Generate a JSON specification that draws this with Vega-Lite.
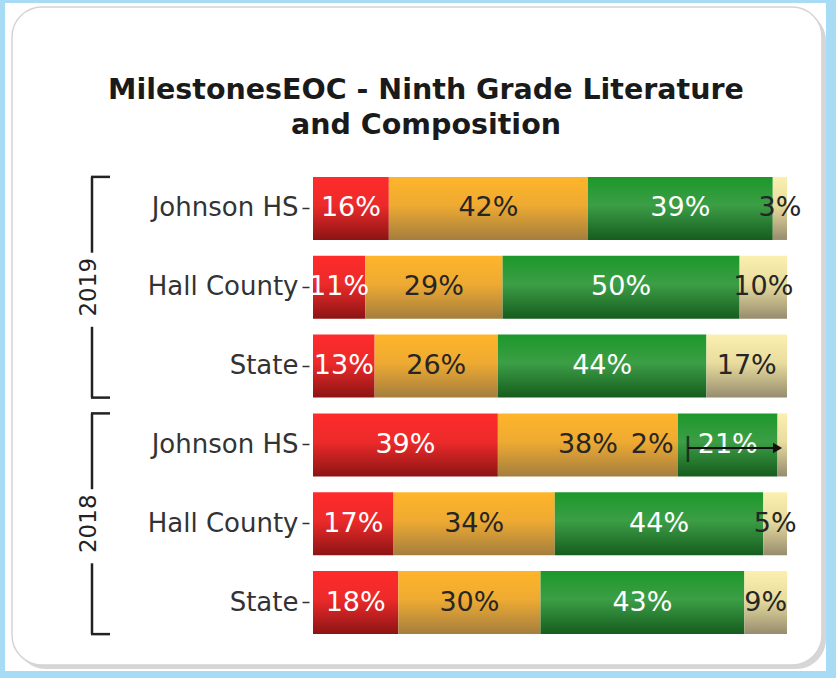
{
  "$schema": "https://vega.github.io/schema/vega-lite/v6.json",
  "width": 474,
  "height": 473,
  "padding": {"left": 5, "top": 2, "right": 10, "bottom": 8},
  "background": "#a8dcf5",
  "title": {
    "text": ["MilestonesEOC - Ninth Grade Literature", "and Composition"],
    "font": "DejaVu Sans",
    "fontSize": 28.5,
    "fontWeight": "bold",
    "color": "#1a1a1a",
    "lineHeight": 35,
    "anchor": "middle",
    "frame": "group",
    "dx": -124,
    "offset": -137
  },
  "config": {"view": {"stroke": null}, "font": "DejaVu Sans"},
  "layer": [
    {
      "data": {"values": [{}]},
      "mark": {"type": "rect", "fill": "white", "xOffset": -308, "x2Offset": 39, "yOffset": -174, "y2Offset": 37},
      "encoding": {
        "x": {"datum": 0, "type": "quantitative", "scale": {"domain": [0, 100], "nice": false}, "axis": null},
        "x2": {"datum": 100},
        "y": {"datum": "2019|Johnson HS", "type": "nominal", "bandPosition": 0, "title": null},
        "y2": {"datum": "2018|State", "bandPosition": 1}
      }
    },
    {
      "data": {"values": [{}]},
      "mark": {"type": "rect", "fill": "#b4b4b4", "opacity": 0.55, "cornerRadius": 30, "xOffset": -297, "x2Offset": 39, "yOffset": -166, "y2Offset": 35},
      "encoding": {
        "x": {"datum": 0, "type": "quantitative", "axis": null},
        "x2": {"datum": 100},
        "y": {"datum": "2019|Johnson HS", "type": "nominal", "bandPosition": 0, "title": null},
        "y2": {"datum": "2018|State", "bandPosition": 1}
      }
    },
    {
      "data": {"values": [{}]},
      "mark": {"type": "rect", "fill": "white", "stroke": "#d4d4d4", "strokeWidth": 1.5, "cornerRadius": 30, "xOffset": -301, "x2Offset": 35, "yOffset": -170, "y2Offset": 31},
      "encoding": {
        "x": {"datum": 0, "type": "quantitative", "axis": null},
        "x2": {"datum": 100},
        "y": {"datum": "2019|Johnson HS", "type": "nominal", "bandPosition": 0, "title": null},
        "y2": {"datum": "2018|State", "bandPosition": 1}
      }
    },
    {
      "data": {
        "values": [
          {"year": "2019", "school": "Johnson HS", "level": 1, "pct": 16},
          {"year": "2019", "school": "Johnson HS", "level": 2, "pct": 42},
          {"year": "2019", "school": "Johnson HS", "level": 3, "pct": 39},
          {"year": "2019", "school": "Johnson HS", "level": 4, "pct": 3},
          {"year": "2019", "school": "Hall County", "level": 1, "pct": 11},
          {"year": "2019", "school": "Hall County", "level": 2, "pct": 29},
          {"year": "2019", "school": "Hall County", "level": 3, "pct": 50},
          {"year": "2019", "school": "Hall County", "level": 4, "pct": 10},
          {"year": "2019", "school": "State", "level": 1, "pct": 13},
          {"year": "2019", "school": "State", "level": 2, "pct": 26},
          {"year": "2019", "school": "State", "level": 3, "pct": 44},
          {"year": "2019", "school": "State", "level": 4, "pct": 17},
          {"year": "2018", "school": "Johnson HS", "level": 1, "pct": 39},
          {"year": "2018", "school": "Johnson HS", "level": 2, "pct": 38},
          {"year": "2018", "school": "Johnson HS", "level": 3, "pct": 21},
          {"year": "2018", "school": "Johnson HS", "level": 4, "pct": 2},
          {"year": "2018", "school": "Hall County", "level": 1, "pct": 17},
          {"year": "2018", "school": "Hall County", "level": 2, "pct": 34},
          {"year": "2018", "school": "Hall County", "level": 3, "pct": 44},
          {"year": "2018", "school": "Hall County", "level": 4, "pct": 5},
          {"year": "2018", "school": "State", "level": 1, "pct": 18},
          {"year": "2018", "school": "State", "level": 2, "pct": 30},
          {"year": "2018", "school": "State", "level": 3, "pct": 43},
          {"year": "2018", "school": "State", "level": 4, "pct": 9}
        ]
      },
      "transform": [
        {"calculate": "datum.year + '|' + datum.school", "as": "key"},
        {"stack": "pct", "groupby": ["key"], "sort": [{"field": "level"}], "as": ["p0", "p1"]},
        {"calculate": "(datum.p0 + datum.p1) / 2", "as": "mid"},
        {"calculate": "datum.pct + '%'", "as": "lab"}
      ],
      "layer": [
        {
          "transform": [{"filter": "datum.level == 1"}],
          "mark": {"type": "bar", "fill": {"gradient": "linear", "x1": 0, "y1": 0, "x2": 0, "y2": 1, "stops": [{"offset": 0, "color": "#ff2b2b"}, {"offset": 0.45, "color": "#ec2a2a"}, {"offset": 1, "color": "#8c1414"}]}},
          "encoding": {
            "x": {"field": "p0", "type": "quantitative", "axis": null},
            "x2": {"field": "p1"},
            "y": {
              "field": "key",
              "type": "nominal",
              "sort": null,
              "title": null,
              "scale": {"domain": ["2019|Johnson HS", "2019|Hall County", "2019|State", "2018|Johnson HS", "2018|Hall County", "2018|State"], "paddingInner": 0.2, "paddingOuter": 0.1},
              "axis": {
                "title": null,
                "domain": false,
                "grid": false,
                "tickSize": 7,
                "tickWidth": 1.5,
                "tickColor": "#333333",
                "offset": 4,
                "labelPadding": 4,
                "labelExpr": "split(datum.label, '|')[1]",
                "labelFont": "DejaVu Sans",
                "labelFontSize": 26,
                "labelColor": "#333333"
              }
            }
          }
        },
        {
          "transform": [{"filter": "datum.level == 2"}],
          "mark": {"type": "bar", "fill": {"gradient": "linear", "x1": 0, "y1": 0, "x2": 0, "y2": 1, "stops": [{"offset": 0, "color": "#ffb52a"}, {"offset": 0.45, "color": "#eeaa32"}, {"offset": 1, "color": "#a47e3e"}]}},
          "encoding": {
            "x": {"field": "p0", "type": "quantitative", "axis": null},
            "x2": {"field": "p1"},
            "y": {"field": "key", "type": "nominal", "title": null}
          }
        },
        {
          "transform": [{"filter": "datum.level == 3"}],
          "mark": {"type": "bar", "fill": {"gradient": "linear", "x1": 0, "y1": 0, "x2": 0, "y2": 1, "stops": [{"offset": 0, "color": "#1c982a"}, {"offset": 0.45, "color": "#3c9e46"}, {"offset": 1, "color": "#165c1e"}]}},
          "encoding": {
            "x": {"field": "p0", "type": "quantitative", "axis": null},
            "x2": {"field": "p1"},
            "y": {"field": "key", "type": "nominal", "title": null}
          }
        },
        {
          "transform": [{"filter": "datum.level == 4"}],
          "mark": {"type": "bar", "fill": {"gradient": "linear", "x1": 0, "y1": 0, "x2": 0, "y2": 1, "stops": [{"offset": 0, "color": "#fbf0b0"}, {"offset": 0.45, "color": "#e8dc9e"}, {"offset": 1, "color": "#968c6e"}]}},
          "encoding": {
            "x": {"field": "p0", "type": "quantitative", "axis": null},
            "x2": {"field": "p1"},
            "y": {"field": "key", "type": "nominal", "title": null}
          }
        },
        {
          "transform": [{"filter": "!(datum.key == '2018|Johnson HS' && datum.level == 4)"}],
          "mark": {"type": "text", "font": "DejaVu Sans", "fontSize": 27},
          "encoding": {
            "x": {"field": "mid", "type": "quantitative", "axis": null},
            "y": {"field": "key", "type": "nominal", "title": null},
            "text": {"field": "lab"},
            "color": {"condition": {"test": "datum.level == 1 || datum.level == 3", "value": "#ffffff"}, "value": "#262626"}
          }
        },
        {
          "transform": [{"filter": "datum.key == '2018|Johnson HS' && datum.level == 4"}],
          "mark": {"type": "text", "font": "DejaVu Sans", "fontSize": 27, "color": "#262626", "dx": -130},
          "encoding": {
            "x": {"field": "mid", "type": "quantitative", "axis": null},
            "y": {"field": "key", "type": "nominal", "title": null},
            "text": {"field": "lab"}
          }
        }
      ]
    },
    {
      "data": {"values": [{}]},
      "layer": [
        {
          "mark": {"type": "rule", "color": "#111111", "strokeWidth": 2, "yOffset": 3},
          "encoding": {
            "x": {"datum": 79.1, "type": "quantitative", "axis": null},
            "x2": {"datum": 97.5},
            "y": {"datum": "2018|Johnson HS", "type": "nominal", "title": null}
          }
        },
        {
          "mark": {"type": "tick", "orient": "vertical", "color": "#111111", "thickness": 2.5, "size": 26, "yOffset": 4},
          "encoding": {
            "x": {"datum": 79.1, "type": "quantitative", "axis": null},
            "y": {"datum": "2018|Johnson HS", "type": "nominal", "title": null}
          }
        },
        {
          "mark": {"type": "point", "shape": "triangle-right", "filled": true, "opacity": 1, "color": "#111111", "size": 110, "yOffset": 3},
          "encoding": {
            "x": {"datum": 98, "type": "quantitative", "axis": null},
            "y": {"datum": "2018|Johnson HS", "type": "nominal", "title": null}
          }
        }
      ]
    },
    {
      "data": {
        "values": [
          {"year": "2019", "top": "2019|Johnson HS", "mid": "2019|Hall County", "bot": "2019|State"},
          {"year": "2018", "top": "2018|Johnson HS", "mid": "2018|Hall County", "bot": "2018|State"}
        ]
      },
      "layer": [
        {
          "mark": {"type": "text", "angle": 270, "font": "DejaVu Sans", "fontSize": 23, "color": "#222222", "xOffset": -224, "align": "center", "baseline": "middle"},
          "encoding": {
            "x": {"datum": 0, "type": "quantitative", "axis": null},
            "y": {"field": "mid", "type": "nominal", "title": null},
            "text": {"field": "year"}
          }
        },
        {
          "mark": {"type": "rule", "color": "#222222", "strokeWidth": 2.5, "xOffset": -221, "y2Offset": -3},
          "encoding": {
            "x": {"datum": 0, "type": "quantitative", "axis": null},
            "y": {"field": "top", "type": "nominal", "bandPosition": 0, "title": null},
            "y2": {"field": "mid", "bandPosition": 0}
          }
        },
        {
          "mark": {"type": "rule", "color": "#222222", "strokeWidth": 2.5, "xOffset": -221, "yOffset": 8},
          "encoding": {
            "x": {"datum": 0, "type": "quantitative", "axis": null},
            "y": {"field": "mid", "type": "nominal", "bandPosition": 1, "title": null},
            "y2": {"field": "bot", "bandPosition": 1}
          }
        },
        {
          "mark": {"type": "rule", "color": "#222222", "strokeWidth": 2.5, "xOffset": -222, "x2Offset": -203},
          "encoding": {
            "x": {"datum": 0, "type": "quantitative", "axis": null},
            "x2": {"datum": 0},
            "y": {"field": "top", "type": "nominal", "bandPosition": 0, "title": null}
          }
        },
        {
          "mark": {"type": "rule", "color": "#222222", "strokeWidth": 2.5, "xOffset": -222, "x2Offset": -203},
          "encoding": {
            "x": {"datum": 0, "type": "quantitative", "axis": null},
            "x2": {"datum": 0},
            "y": {"field": "bot", "type": "nominal", "bandPosition": 1, "title": null}
          }
        }
      ]
    }
  ]
}
